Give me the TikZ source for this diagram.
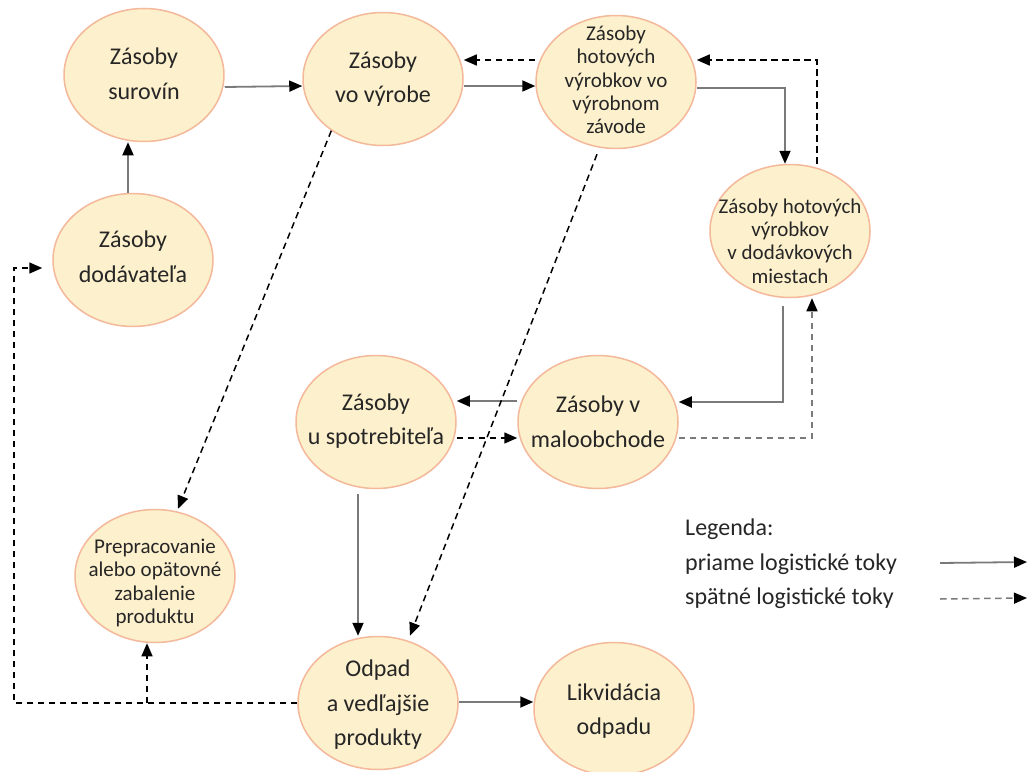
\documentclass[tikz,border=0pt]{standalone}
\usepackage{fontspec}
\setmainfont{Carlito}
\usetikzlibrary{arrows.meta,shapes.geometric,calc}
\definecolor{blobfill}{HTML}{FDF0CC}
\definecolor{blobline}{HTML}{F4B89A}
\definecolor{ink}{HTML}{262626}
\definecolor{flowgray}{HTML}{7A7A7A}

\begin{document}
\begin{tikzpicture}[x=1pt,y=-1pt,
  blob/.style={ellipse, draw=blobline, fill=blobfill, line width=1.5pt,
    minimum width=160pt, minimum height=133pt, inner sep=0pt},
  big/.style={align=center, text=ink, inner sep=0pt,
    font=\fontsize{24}{34.5}\selectfont},
  small/.style={align=center, text=ink, inner sep=0pt,
    font=\fontsize{21}{23.3}\selectfont},
  legtext/.style={anchor=base west, text=ink, inner sep=0pt,
    font=\fontsize{24}{34.5}\selectfont},
  tip/.style={-{Triangle[length=13pt,width=11pt,color=black]}},
  fwd/.style={tip, draw=flowgray, line width=1.8pt},
  bwd/.style={tip, draw=black, line width=1.5pt, dash pattern=on 6.5pt off 4.5pt},
]
\path[use as bounding box] (0,0) rectangle (1028,771);

% stock nodes
\node[blob] (sur) at (144,75)  {};
\node[blob] (vyr) at (383,79)  {};
\node[blob] (zav) at (616,82)  {};
\node[blob] (dod) at (133,260) {};
\node[blob] (dk)  at (790,231) {};
\node[blob] (spo) at (376,422) {};
\node[blob] (mal) at (598,422) {};
\node[blob] (pre) at (155,576) {};
\node[blob] (odp) at (378,703) {};
\node[blob] (lik) at (614,709) {};

% labels
\node[big]   (sur-t) at (144,74)  {Zásoby\\surovín};
\node[big]   (vyr-t) at (383,79)  {Zásoby\\vo výrobe};
\node[small] (zav-t) at (616,80)  {Zásoby\\hotových\\výrobkov vo\\výrobnom\\závode};
\node[big]   (dod-t) at (133,257) {Zásoby\\dodávateľa};
\node[small] (dk-t)  at (790,241) {Zásoby hotových\\výrobkov\\v dodávkových\\miestach};
\node[big]   (spo-t) at (376,421) {Zásoby\\u spotrebiteľa};
\node[big]   (mal-t) at (598,422) {Zásoby v\\maloobchode};
\node[small] (pre-t) at (155,583) {Prepracovanie\\alebo opätovné\\zabalenie\\produktu};
\node[big]   (odp-t) at (378,705) {Odpad\\a vedľajšie\\produkty};
\node[big]   (lik-t) at (614,711) {Likvidácia\\odpadu};

% forward flows
\draw[fwd] ([yshift=-12pt]sur.east) -- ([yshift=-7pt]vyr.west);
\draw[fwd] ([xshift=-5pt]dod.north) -- ([xshift=-5pt]dod.north |- sur.south);
\draw[fwd] ([yshift=-7pt]vyr.east) -- ([yshift=-4pt]zav.west);
\draw[fwd] ([yshift=-6pt]zav.east) -| ([xshift=-5pt]dk.north);
\draw[fwd] ([xshift=-7pt,yshift=-8pt]dk.south) |- ([yshift=20pt]mal.east);
\draw[fwd] ([yshift=21pt]mal.west) -- ([yshift=21pt]spo.east);
\draw[fwd] ([xshift=-18pt,yshift=-5pt]spo.south) -- ([xshift=-18pt]spo.south |- odp.north);
\draw[fwd] ([yshift=1pt]odp.east) -- ([yshift=7pt]lik.west);

% reverse flows
\coordinate (rim) at (14,703);
\draw[bwd] ([yshift=22pt]zav.west) -- ([yshift=19pt]vyr.east);
\draw[bwd] ([xshift=27pt]dk.north) |- ([yshift=22pt]zav.east);
\draw[bwd, draw=flowgray] ([yshift=-16pt]mal.east) -| ([xshift=22pt]dk.south);
\draw[bwd] ([yshift=-16pt]spo.east) -- ([yshift=-16pt]mal.west);
\draw[bwd] (vyr.225) -- ([xshift=23pt]pre.north);
\draw[bwd] ([xshift=-19pt,yshift=-5pt]zav.south) -- ([xshift=32pt]odp.north);
\draw[bwd, shorten >=10pt] (odp.west) -- (rim) |- ([yshift=-8pt]dod.west);
\draw[bwd] ([xshift=-8pt]pre.south |- odp.west) -- ([xshift=-8pt]pre.south);

% legend
\node[legtext] (leg0) at (685,535) {Legenda:};
\node[legtext] (leg1) at (685,570) {priame logistické toky};
\node[legtext] (leg2) at (685,604) {spätné logistické toky};
\coordinate (l1a) at (940,563);
\coordinate (l1b) at (1027,562);
\coordinate (l2a) at (940,599);
\coordinate (l2b) at (1027,598);
\draw[fwd] (l1a) -- (l1b);
\draw[bwd, draw=flowgray] (l2a) -- (l2b);
\end{tikzpicture}
\end{document}
